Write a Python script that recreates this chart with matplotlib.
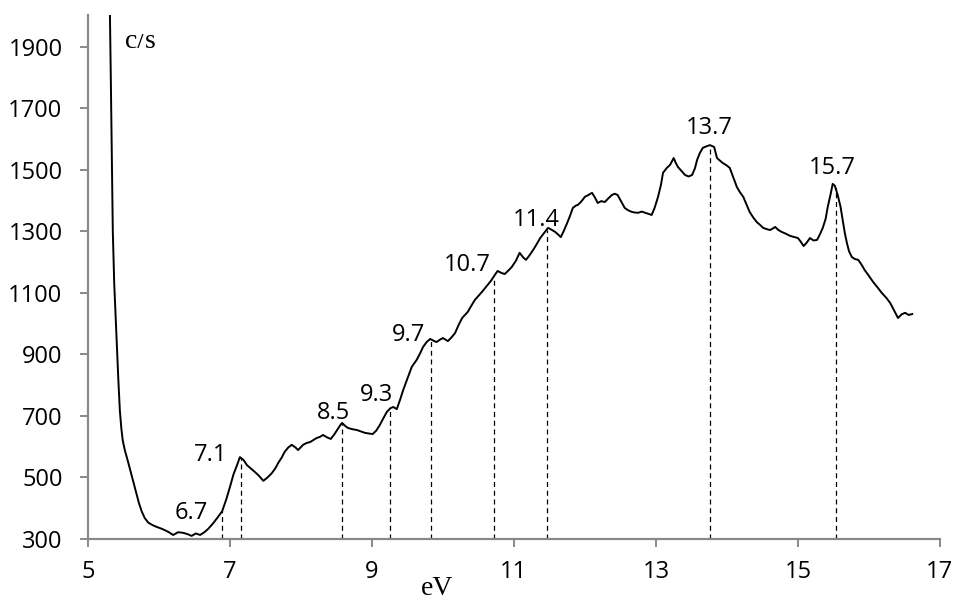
import matplotlib
matplotlib.use("Agg")
import matplotlib.pyplot as plt
from matplotlib.transforms import Bbox, TransformedBbox
import numpy as np

# spectrum (eV, c/s)
ev = [5.30, 5.31, 5.32, 5.33, 5.34, 5.35, 5.37, 5.39, 5.41, 5.43, 5.45, 5.47, 5.49, 5.52, 5.56,
      5.60, 5.64, 5.68, 5.72, 5.76, 5.80, 5.85, 5.91, 5.97, 6.03, 6.08, 6.14,
      6.20, 6.27, 6.34, 6.40, 6.46, 6.52, 6.58, 6.64, 6.69, 6.76, 6.82, 6.89,
      6.95, 7.00, 7.05, 7.10, 7.14, 7.19, 7.24, 7.30, 7.35, 7.41, 7.47, 7.53, 7.59, 7.64, 7.68,
      7.73, 7.77, 7.82, 7.87, 7.92, 7.96, 8.03, 8.08, 8.13, 8.18, 8.22, 8.27, 8.31, 8.37, 8.42,
      8.47, 8.51, 8.56, 8.58, 8.62, 8.66, 8.72, 8.79, 8.84, 8.90, 8.95, 9.01, 9.06, 9.11, 9.16,
      9.21, 9.26, 9.30, 9.35, 9.40, 9.44, 9.50, 9.56, 9.63, 9.68, 9.72, 9.77, 9.82, 9.87, 9.91,
      9.96, 10.00, 10.07, 10.12, 10.17, 10.22, 10.27, 10.35, 10.40, 10.45, 10.50, 10.55, 10.63,
      10.68, 10.73, 10.77, 10.82, 10.87, 10.92, 10.97, 11.03, 11.08, 11.13, 11.17, 11.22, 11.27,
      11.32, 11.37, 11.43, 11.48, 11.53, 11.58, 11.62, 11.66, 11.70, 11.75, 11.79, 11.83, 11.87,
      11.90, 11.93, 11.96, 12.00, 12.05, 12.10, 12.14, 12.18, 12.23, 12.28, 12.33, 12.38, 12.42,
      12.46, 12.51, 12.56, 12.61, 12.66, 12.70, 12.75, 12.80, 12.85, 12.90, 12.94, 12.98, 13.03,
      13.07, 13.10, 13.15, 13.20, 13.25, 13.28, 13.31, 13.36, 13.41, 13.46, 13.51, 13.55, 13.58,
      13.62, 13.66, 13.71, 13.76, 13.82, 13.86, 13.90, 13.94, 13.99, 14.04, 14.09, 14.14, 14.18,
      14.23, 14.27, 14.32, 14.37, 14.42, 14.47, 14.51, 14.56, 14.61, 14.68, 14.72, 14.77, 14.83,
      14.89, 14.95, 15.00, 15.04, 15.08, 15.12, 15.17, 15.22, 15.27, 15.31, 15.35, 15.39, 15.42,
      15.46, 15.49, 15.52, 15.56, 15.60, 15.63, 15.66, 15.69, 15.72, 15.76, 15.80, 15.85, 15.90,
      15.94, 16.00, 16.06, 16.12, 16.18, 16.24, 16.30, 16.35, 16.41, 16.46, 16.51, 16.56, 16.61]
counts = [2150, 2000, 1830, 1650, 1480, 1300, 1130, 1022, 910, 807, 715, 660, 620, 588, 555,
          520, 484, 450, 415, 388, 368, 353, 345, 339, 334, 329, 322,
          313, 322, 320, 316, 310, 318, 313, 322, 332, 350, 368, 390,
          430, 469, 510, 540, 566, 557, 540, 528, 518, 505, 489, 500, 514, 530, 547,
          565, 583, 597, 606, 598, 589, 606, 612, 615, 622, 628, 632, 638, 630, 625,
          640, 654, 672, 677, 668, 661, 657, 654, 650, 645, 643, 641, 652, 670, 692,
          713, 725, 729, 722, 755, 784, 822, 859, 882, 904, 924, 940, 950, 944, 940,
          948, 953, 943, 955, 969, 995, 1018, 1038, 1058, 1077, 1090, 1103, 1126,
          1140, 1158, 1171, 1165, 1161, 1172, 1184, 1205, 1230, 1215, 1207, 1222, 1239,
          1258, 1278, 1296, 1311, 1305, 1298, 1290, 1281, 1300, 1327, 1350, 1376, 1383,
          1386, 1392, 1400, 1412, 1418, 1425, 1410, 1392, 1398, 1395, 1407, 1418, 1422,
          1418, 1397, 1376, 1368, 1363, 1361, 1360, 1364, 1360, 1356, 1353, 1375, 1412,
          1450, 1490, 1505, 1516, 1538, 1522, 1509, 1496, 1483, 1478, 1483, 1505, 1532,
          1555, 1571, 1576, 1580, 1574, 1538, 1530, 1522, 1515, 1506, 1475, 1444, 1428,
          1412, 1390, 1363, 1345, 1330, 1320, 1311, 1307, 1304, 1314, 1305, 1298, 1292,
          1285, 1281, 1278, 1266, 1252, 1262, 1278, 1270, 1272, 1290, 1311, 1340, 1379,
          1420, 1454, 1448, 1418, 1380, 1337, 1295, 1262, 1235, 1216, 1210, 1207, 1190,
          1174, 1155, 1135, 1118, 1100, 1085, 1067, 1045, 1018, 1030, 1035, 1028, 1031]

# marked features: where the dashed line sits, and where the label is
peak_x = [6.89, 7.15, 8.58, 9.25, 9.83, 10.72, 11.46, 13.76, 15.53]
labels = ["6.7", "7.1", "8.5", "9.3", "9.7", "10.7", "11.4", "13.7", "15.7"]
label_x = [6.46, 6.73, 8.46, 9.07, 9.52, 10.34, 11.32, 13.75, 15.49]
label_y = [384, 573, 709, 768, 963, 1190, 1337, 1636, 1506]

x_ticks = [5, 7, 9, 11, 13, 15, 17]
y_ticks = [300, 500, 700, 900, 1100, 1300, 1500, 1700, 1900]

grey = "#898989"
plt.rcParams["font.family"] = ["Open Sans", "DejaVu Sans"]

fig = plt.figure(figsize=(9.55, 5.98), dpi=100)
ax = fig.add_axes([0.0921, 0.0987, 0.8921, 0.8763])

ax.plot(ev, counts, color="black", lw=1.4, solid_joinstyle="round")

tops = np.interp(peak_x, ev, counts)
for px, top in zip(peak_x, tops):
    ax.plot([px, px], [300, top], color="black", lw=0.9, dashes=(4, 3))

for lab, lx, ly in zip(labels, label_x, label_y):
    ax.text(lx, ly, lab, ha="center", va="center", fontsize=17)

ax.set_xlim(5, 17)
ax.set_ylim(300, 2003)
ax.set_xticks(x_ticks)
ax.set_yticks(y_ticks)
ax.tick_params(axis="both", direction="out", length=5.8, width=1.4, color=grey,
               labelsize=17, labelcolor="black")
ax.tick_params(axis="y", pad=12.5)
ax.tick_params(axis="x", pad=9)
for side in ["top", "right"]:
    ax.spines[side].set_visible(False)
for side in ["left", "bottom"]:
    ax.spines[side].set_color(grey)
    ax.spines[side].set_linewidth(1.6)

# axis captions in a serif face; "c/s" is cut off at the top as in the original
cs = fig.text(140 / 955, 1 - 48 / 598, "c/s", ha="center", va="baseline",
              fontsize=20, family="Liberation Serif")
cs.set_clip_box(TransformedBbox(Bbox([[0, 0], [1, 1 - 34 / 598]]), fig.transFigure))
cs.set_clip_on(True)
fig.text(437 / 955, 3 / 598, "eV", ha="center", va="baseline", fontsize=20,
         family="Liberation Serif")

fig.savefig("out.png", dpi=100)
